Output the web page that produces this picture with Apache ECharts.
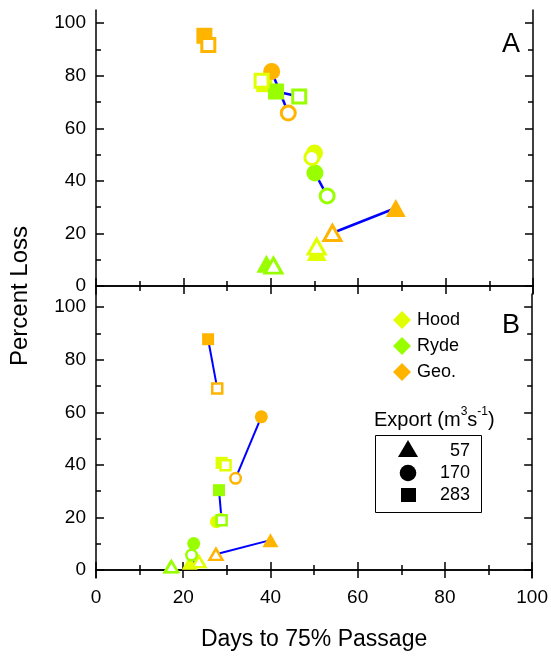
<!DOCTYPE html>
<html><head><meta charset="utf-8">
<script src="https://cdn.jsdelivr.net/npm/echarts@6/dist/echarts.min.js"></script>
<style>html,body{margin:0;padding:0;background:#fff}#c{width:551px;height:656px}</style>
</head><body><div id="c"></div>
<script>
const FONT = '"Liberation Sans", Arial, sans-serif';
const siteNames = ['Hood', 'Ryde', 'Geo.'];
const siteColors = ['#e0ff00', '#99ff00', '#ffb400'];
const exportLabels = ['57', '170', '283'];
const exportSymbols = ['triangle', 'circle', 'rect'];
const yLabelValues = [0, 20, 40, 60, 80, 100];
const yMinorValues = [10, 30, 50, 70, 90];
const xTitle = 'Days to 75% Passage';
const yTitle = 'Percent Loss';
const panelLabels = ['A', 'B'];

// [days, percent] for export 57, 170, 283
const aHoodFilled = [[50.5, 13.0], [50.0, 50.6], [38.5, 76.8]];
const aHoodOpen   = [[50.5, 15.0], [49.4, 48.9], [37.9, 78.1]];
const aRydeFilled = [[39.0, 8.5], [50.1, 43.0], [41.2, 74.0]];
const aRydeOpen   = [[40.6, 7.8], [52.9, 34.3], [46.5, 72.1]];
const aGeoFilled  = [[68.6, 29.7], [40.2, 81.6], [24.8, 95.2]];
const aGeoOpen    = [[54.1, 20.2], [44.0, 65.8], [25.7, 91.7]];

const bHoodFilled = [[21.5, 2.8], [27.6, 18.4], [28.8, 40.8]];
const bHoodOpen   = [[23.6, 3.2], [28.6, 19.2], [29.7, 39.9]];
const bRydeFilled = [[17.1, 1.4], [22.4, 10.1], [28.2, 30.4]];
const bRydeOpen   = [[17.3, 1.3], [21.9, 5.7], [28.8, 19.0]];
const bGeoFilled  = [[40.0, 11.4], [37.9, 58.3], [25.7, 87.8]];
const bGeoOpen    = [[27.5, 6.0], [32.0, 34.9], [27.8, 69.1]];

const panels = [
  { filled: [aHoodFilled, aRydeFilled, aGeoFilled], open: [aHoodOpen, aRydeOpen, aGeoOpen],
    fs: [[20, 18], 17, 16], os: [[17, 15], 14, 13], bw: 3, lw: 2.5 },
  { filled: [bHoodFilled, bRydeFilled, bGeoFilled], open: [bHoodOpen, bRydeOpen, bGeoOpen],
    fs: [[16, 14], 13, 12], os: [[13, 11], 10.5, 10], bw: 2.5, lw: 2 }
];

const grids = [
  { left: 96, top: 10, width: 437, height: 284 },
  { left: 96, top: 294, width: 437, height: 284 }
];

const axLine = { show: true, lineStyle: { color: '#000', width: 1.5 } };
const xAxes = [], yAxes = [];
grids.forEach((g, p) => {
  ['bottom', 'top'].forEach(pos => {
    const showLab = (p === 1 && pos === 'bottom');
    xAxes.push({
      type: 'value', gridIndex: p, position: pos, min: 0, max: 100, interval: 20,
      axisLine: axLine,
      axisTick: { show: true, inside: true, length: 8, lineStyle: { color: '#000', width: 1.5 } },
      minorTick: { show: true, splitNumber: 2, length: 5, lineStyle: { color: '#000', width: 1.5 } },
      splitLine: { show: false }, minorSplitLine: { show: false },
      axisLabel: { show: showLab, fontFamily: FONT, fontSize: 19, color: '#000', margin: 10 },
      name: showLab ? xTitle : '', nameLocation: 'middle', nameGap: 50,
      nameTextStyle: { fontFamily: FONT, fontSize: 23, color: '#000' }
    });
  });
  ['left', 'right'].forEach(pos => {
    yAxes.push({
      type: 'value', gridIndex: p, position: pos, min: -3, max: 105,
      axisLine: axLine,
      axisTick: { show: true, inside: true, length: 8, customValues: yLabelValues, lineStyle: { color: '#000', width: 1.5 } },
      splitLine: { show: false },
      axisLabel: { show: pos === 'left', customValues: yLabelValues, fontFamily: FONT, fontSize: 19, color: '#000', margin: 10 }
    });
    yAxes.push({
      type: 'value', gridIndex: p, position: pos, min: -3, max: 105,
      axisLine: { show: false },
      axisTick: { show: true, inside: true, length: 5, customValues: yMinorValues, lineStyle: { color: '#000', width: 1.5 } },
      splitLine: { show: false },
      axisLabel: { show: false }
    });
  });
});

const series = [];
panels.forEach((pn, p) => {
  const xi = p * 2, yi = p * 4;
  for (let s = 0; s < 3; s++) {
    for (let e = 0; e < 3; e++) {
      series.push({
        type: 'line', xAxisIndex: xi, yAxisIndex: yi, z: 1, silent: true,
        symbol: 'none', data: [pn.filled[s][e], pn.open[s][e]],
        lineStyle: { color: '#0000ff', width: pn.lw }
      });
    }
  }
  for (let s = 0; s < 3; s++) {
    series.push({
      type: 'scatter', name: siteNames[s], xAxisIndex: xi, yAxisIndex: yi, z: 2,
      data: pn.filled[s].map((v, e) => ({ value: v, symbol: exportSymbols[e], symbolSize: pn.fs[e] })),
      itemStyle: { color: siteColors[s], opacity: 1 }
    });
  }
  for (let s = 0; s < 3; s++) {
    series.push({
      type: 'scatter', name: siteNames[s] + ' open', xAxisIndex: xi, yAxisIndex: yi, z: 3,
      data: pn.open[s].map((v, e) => ({ value: v, symbol: exportSymbols[e], symbolSize: pn.os[e] })),
      itemStyle: { color: '#fff', borderColor: siteColors[s], borderWidth: pn.bw, opacity: 1 }
    });
  }
});

const graphic = [];
graphic.push({ type: 'text', x: 20, y: 296, rotation: Math.PI / 2,
  style: { text: yTitle, font: '24px ' + FONT, fill: '#000', align: 'center', verticalAlign: 'middle' } });
graphic.push({ type: 'text', x: 511, y: 45,
  style: { text: panelLabels[0], font: '27px ' + FONT, fill: '#000', align: 'center', verticalAlign: 'middle' } });
graphic.push({ type: 'text', x: 511, y: 326,
  style: { text: panelLabels[1], font: '27px ' + FONT, fill: '#000', align: 'center', verticalAlign: 'middle' } });
const legY = [320, 346, 372];
siteNames.forEach((n, s) => {
  const cx = 402, cy = legY[s];
  graphic.push({ type: 'polygon', shape: { points: [[cx, cy - 9], [cx + 9, cy], [cx, cy + 9], [cx - 9, cy]] },
    style: { fill: siteColors[s] } });
  graphic.push({ type: 'text', x: 417, y: cy,
    style: { text: n, font: '18px ' + FONT, fill: '#000', align: 'left', verticalAlign: 'middle' } });
});
graphic.push({ type: 'text', x: 374, y: 418,
  style: {
    text: '{n|Export (m}{s|3}{n|s}{s|-1}{n|)}', align: 'left', verticalAlign: 'middle', fill: '#000',
    rich: {
      n: { fontFamily: FONT, fontSize: 20, fill: '#000', verticalAlign: 'bottom', lineHeight: 24 },
      s: { fontFamily: FONT, fontSize: 12, fill: '#000', verticalAlign: 'top', lineHeight: 24 }
    }
  } });
graphic.push({ type: 'rect', shape: { x: 375.5, y: 435.5, width: 106, height: 77 },
  style: { fill: 'none', stroke: '#000', lineWidth: 1 } });
graphic.push({ type: 'polygon', shape: { points: [[408, 440], [418, 457], [398, 457]] }, style: { fill: '#000' } });
graphic.push({ type: 'circle', shape: { cx: 408, cy: 473, r: 8.3 }, style: { fill: '#000' } });
graphic.push({ type: 'rect', shape: { x: 401, y: 488, width: 15, height: 14 }, style: { fill: '#000' } });
const numY = [451, 473, 495];
exportLabels.forEach((t, e) => {
  graphic.push({ type: 'text', x: 470, y: numY[e],
    style: { text: t, font: '18px ' + FONT, fill: '#000', align: 'right', verticalAlign: 'middle' } });
});

const chart = echarts.init(document.getElementById('c'), null, { renderer: 'canvas' });
chart.setOption({
  animation: false,
  backgroundColor: '#fff',
  grid: grids,
  xAxis: xAxes,
  yAxis: yAxes,
  series: series,
  graphic: graphic
});
</script>
</body></html>
